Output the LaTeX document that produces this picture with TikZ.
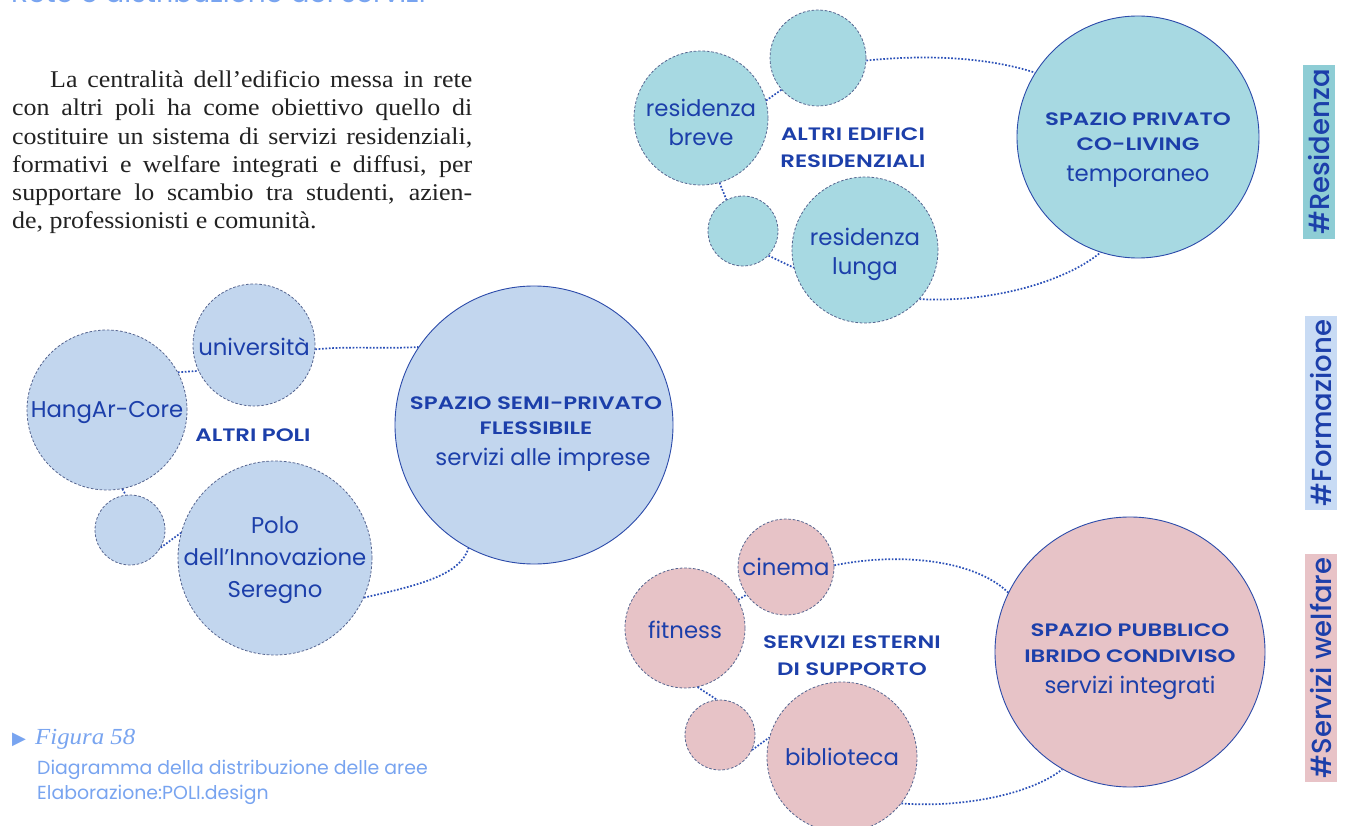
\documentclass[tikz,border=0pt]{standalone}
\usepackage{fontspec}
\setmainfont{Liberation Serif}[FakeStretch=1.08]
\setsansfont{Poppins}
\newfontfamily\symfont{DejaVu Sans}
\newfontfamily\widesans{Poppins SemiBold}[FakeStretch=1.27]
\newfontfamily\tagsans{Poppins Medium}

\definecolor{tealfill}{HTML}{A7D9E2}
\definecolor{tealtag}{HTML}{8ECDD5}
\definecolor{bluefill}{HTML}{C2D6EE}
\definecolor{bluetag}{HTML}{C8DBF4}
\definecolor{pinkfill}{HTML}{E7C3C7}
\definecolor{pinktag}{HTML}{E8C3C7}
\definecolor{ink}{HTML}{1C3FAA}
\definecolor{rimline}{HTML}{2C4BAA}
\definecolor{dashline}{HTML}{55648F}
\definecolor{linkline}{HTML}{2B50B8}
\definecolor{caption}{HTML}{78A4F0}
\definecolor{bodytext}{HTML}{222222}

\tikzset{
  hub/.style={circle, draw=rimline, line width=0.9pt, inner sep=0pt, minimum size=#1},
  bubble/.style={circle, draw=dashline, line width=0.8pt, dash pattern=on 2.6pt off 1.8pt,
    inner sep=0pt, minimum size=#1},
  bubbletext/.style={text=ink, align=center, inner sep=0pt,
    font=\sffamily\fontsize{22.8}{29}\selectfont},
  link/.style={draw=linkline, line width=1.7pt, dash pattern=on 1.7pt off 1.7pt},
  hubtext/.style={text=ink, align=center, inner sep=0pt,
    font=\widesans\fontsize{18}{25.5}\selectfont},
  grouptext/.style={text=ink, align=center, inner sep=0pt,
    font=\widesans\fontsize{18}{27}\selectfont},
  tag/.style={rotate=90, text=ink, inner xsep=4pt, inner ysep=0pt, minimum height=32pt,
    font=\tagsans\fontsize{27.5}{28}\selectfont},
  bodyline/.style={anchor=base west, inner sep=0pt, text=bodytext,
    font=\fontsize{24}{28}\selectfont},
  captext/.style={anchor=base west, inner sep=0pt, text=caption,
    font=\sffamily\fontsize{18.9}{24}\selectfont}
}
% lower line of a hub label, set in the regular face
\newcommand{\hubsub}[1]{{\sffamily\fontsize{22.8}{30}\selectfont #1}}

\begin{document}
\begin{tikzpicture}[x=1pt, y=-1pt]
\clip (0,0) rectangle (1350,826);
\fill[white] (0,0) rectangle (1350,826);

% heading, mostly above the page edge
\node[anchor=base west, inner sep=0pt, text=caption,
  font=\sffamily\fontsize{28}{30}\selectfont] (heading) at (11,3) {Rete e distribuzione dei servizi};

% introductory paragraph
\node[bodyline] (p1) at (50,88)  {\makebox[422pt][s]{La centralità dell’edificio messa in rete}};
\node[bodyline] (p2) at (12,116) {\makebox[460pt][s]{con altri poli ha come obiettivo quello di}};
\node[bodyline] (p3) at (12,145) {\makebox[460pt][s]{costituire un sistema di servizi residenziali,}};
\node[bodyline] (p4) at (12,173) {\makebox[460pt][s]{formativi e welfare integrati e diffusi, per}};
\node[bodyline] (p5) at (12,201) {\makebox[460pt][s]{supportare lo scambio tra studenti, azien-}};
\node[bodyline] (p6) at (12,229) {de, professionisti e comunità.};

% ---------- residenza ----------
\node[hub=242pt, fill=tealfill] (resHub) at (1138,137) {};
\node[hubtext] (resHubT) at (1138,150) {SPAZIO PRIVATO\\CO-LIVING\\[5pt]\hubsub{temporaneo}};
\node[bubble=96pt, fill=tealfill] (resTop) at (818,58) {};
\node[bubble=134pt, fill=tealfill,
  label={[bubbletext, yshift=-4pt]center:{residenza\\breve}}] (resShort) at (701,118) {};
\node[bubble=70pt, fill=tealfill] (resDot) at (743,231) {};
\node[bubble=146pt, fill=tealfill,
  label={[bubbletext, yshift=-4pt]center:{residenza\\lunga}}] (resLong) at (865,250) {};
\node[grouptext] (resGroup) at (853,148) {ALTRI EDIFICI\\RESIDENZIALI};

\draw[link] (resShort.15) -- (resTop.221);
\draw[link] (resShort.286) -- (resDot.118);
\draw[link] (resDot.316) -- (resLong.194);
\draw[link] (resTop.357) .. controls (930,54) and (990,58) .. (resHub.148);
\draw[link] (resLong.318) .. controls (990,303) and (1065,282) .. (resHub.252);

% ---------- formazione ----------
\node[hub=278pt, fill=bluefill] (eduHub) at (534,425) {};
\node[hubtext] (eduHubT) at (536,434) {SPAZIO SEMI-PRIVATO\\FLESSIBILE\\[5pt]\hspace*{14pt}\hubsub{servizi alle imprese}};
\node[bubble=122pt, fill=bluefill,
  label={[bubbletext, yshift=-2pt]center:università}] (eduUni) at (254,345) {};
\node[bubble=160pt, fill=bluefill,
  label={[bubbletext, yshift=-3pt]center:HangAr-Core}] (eduHangar) at (107,410) {};
\node[bubble=70pt, fill=bluefill] (eduDot) at (130,530) {};
\node[bubble=194pt, fill=bluefill,
  label={[bubbletext, font=\sffamily\fontsize{22.8}{32}\selectfont, yshift=-2pt]center:{Polo\\dell’Innovazione\\Seregno}}] (eduPolo) at (275,558) {};
\node[grouptext] (eduGroup) at (253,435) {ALTRI POLI};

\draw[link] (eduHangar.28) -- (eduUni.205);
\draw[link] (eduHangar.281) -- (eduDot.97);
\draw[link] (eduDot.330) -- (eduPolo.165);
\draw[link] (eduUni.356) .. controls (350,346) and (385,349) .. (eduHub.146);
\draw[link] (eduPolo.336) .. controls (420,585) and (460,575) .. (eduHub.242);

% ---------- servizi welfare ----------
\node[hub=270pt, fill=pinkfill] (welHub) at (1130,652) {};
\node[hubtext] (welHubT) at (1130,662) {SPAZIO PUBBLICO\\IBRIDO CONDIVISO\\[6pt]\hubsub{servizi integrati}};
\node[bubble=96pt, fill=pinkfill,
  label={[bubbletext]center:cinema}] (welCinema) at (786,567) {};
\node[bubble=120pt, fill=pinkfill,
  label={[bubbletext, yshift=-2pt]center:fitness}] (welFit) at (685,628) {};
\node[bubble=70pt, fill=pinkfill] (welDot) at (720,735) {};
\node[bubble=150pt, fill=pinkfill,
  label={[bubbletext]center:biblioteca}] (welLib) at (842,757) {};
\node[grouptext] (welGroup) at (852,656) {SERVIZI ESTERNI\\DI SUPPORTO};

\draw[link] (welFit.28) -- (welCinema.215);
\draw[link] (welFit.282) -- (welDot.95);
\draw[link] (welDot.335) -- (welLib.165);
\draw[link] (welCinema.2) .. controls (900,552) and (975,560) .. (welHub.154);
\draw[link] (welLib.322) .. controls (960,808) and (1030,795) .. (welHub.240);

% ---------- side tags ----------
\node[tag, fill=tealtag] (tagRes) at (1319,152) {\#Residenza};
\node[tag, fill=bluetag] (tagEdu) at (1321,413) {\#Formazione};
\node[tag, fill=pinktag] (tagWel) at (1321,668) {\#Servizi welfare};

% ---------- caption ----------
\node[anchor=base west, inner sep=0pt, text=caption, font=\symfont\fontsize{18}{18}\selectfont] (capMark) at (12,744) {▶};
\node[anchor=base west, inner sep=0pt, text=caption, font=\itshape\fontsize{23}{26}\selectfont] (capFig) at (35,744) {Figura 58};
\node[captext] (capLine1) at (37,774) {Diagramma della distribuzione delle aree};
\node[captext] (capLine2) at (37,799) {Elaborazione:POLI.design};
\end{tikzpicture}
\end{document}
